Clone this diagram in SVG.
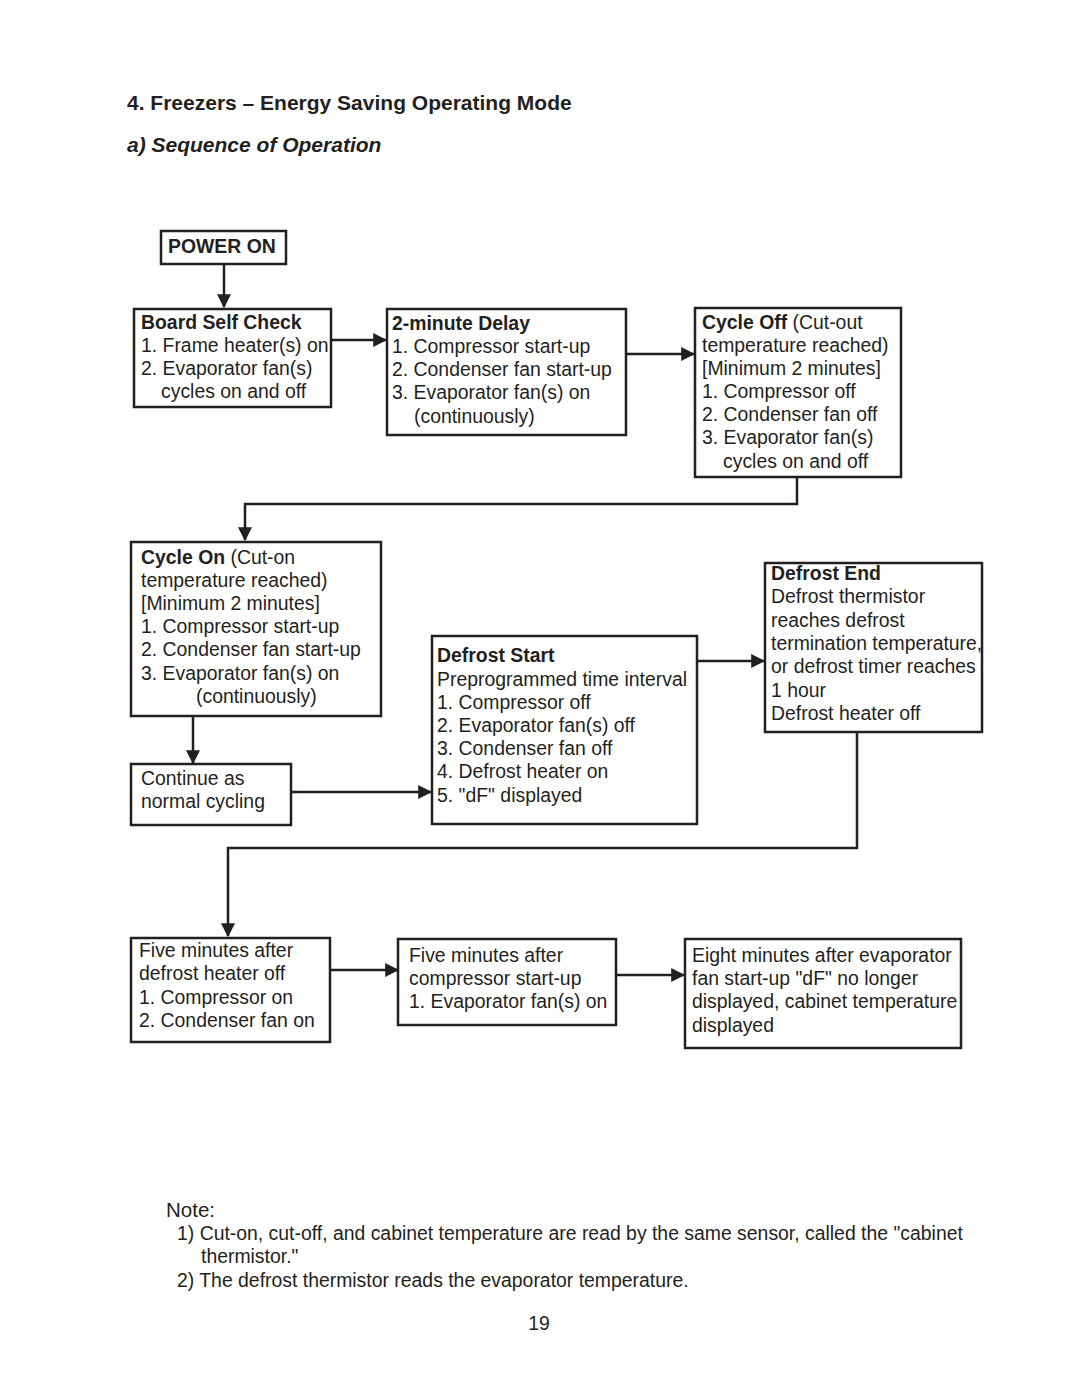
<svg xmlns="http://www.w3.org/2000/svg" width="1080" height="1397" viewBox="0 0 1080 1397">
<style>
text{font-family:"Liberation Sans",Arial,sans-serif;font-size:19.4px;fill:#231f20}
.b{font-weight:bold}
.box{fill:#fff;stroke:#231f20;stroke-width:2.5}
.c{fill:none;stroke:#231f20;stroke-width:2.5}
</style>
<defs>
<marker id="ah" markerUnits="userSpaceOnUse" markerWidth="14" markerHeight="14" viewBox="0 0 12 12" refX="11" refY="6" orient="auto">
<path d="M0,0 L12,6 L0,12 Z" fill="#231f20"/>
</marker>
</defs>
<rect width="1080" height="1397" fill="#fff"/>
<text x="127" y="110" class="b" style="font-size:21px">4. Freezers – Energy Saving Operating Mode</text>
<text x="127" y="152" class="b" style="font-size:21px;font-style:italic">a) Sequence of Operation</text>

<g id="connectors">
<line class="c" x1="224" y1="264" x2="224" y2="307" marker-end="url(#ah)"/>
<line class="c" x1="331" y1="340" x2="386" y2="340" marker-end="url(#ah)"/>
<line class="c" x1="626" y1="354" x2="694" y2="354" marker-end="url(#ah)"/>
<polyline class="c" points="797,477 797,504 245,504 245,540" marker-end="url(#ah)"/>
<line class="c" x1="193" y1="716" x2="193" y2="763" marker-end="url(#ah)"/>
<line class="c" x1="291" y1="792" x2="431" y2="792" marker-end="url(#ah)"/>
<line class="c" x1="697" y1="661" x2="764" y2="661" marker-end="url(#ah)"/>
<polyline class="c" points="857,732 857,848 228,848 228,936" marker-end="url(#ah)"/>
<line class="c" x1="330" y1="970" x2="398" y2="970" marker-end="url(#ah)"/>
<line class="c" x1="616" y1="975" x2="684" y2="975" marker-end="url(#ah)"/>
</g>

<g id="power-on">
<rect class="box" x="161" y="231" width="125" height="33"/>
<text x="168" y="253" class="b">POWER ON</text>
</g>

<g id="board-self-check">
<rect class="box" x="134" y="309" width="197" height="98"/>
<text x="141" y="329" class="b">Board Self Check</text>
<text x="141" y="352">1. Frame heater(s) on</text>
<text x="141" y="375">2. Evaporator fan(s)</text>
<text x="161" y="398">cycles on and off</text>
</g>

<g id="two-minute-delay">
<rect class="box" x="387" y="309" width="239" height="126"/>
<text x="392" y="330" class="b">2-minute Delay</text>
<text x="392" y="353">1. Compressor start-up</text>
<text x="392" y="376">2. Condenser fan start-up</text>
<text x="392" y="399">3. Evaporator fan(s) on</text>
<text x="414" y="423">(continuously)</text>
</g>

<g id="cycle-off">
<rect class="box" x="695" y="308" width="206" height="169"/>
<text x="702" y="329"><tspan class="b">Cycle Off</tspan> (Cut-out</text>
<text x="702" y="352">temperature reached)</text>
<text x="702" y="375">[Minimum 2 minutes]</text>
<text x="702" y="398">1. Compressor off</text>
<text x="702" y="421">2. Condenser fan off</text>
<text x="702" y="444">3. Evaporator fan(s)</text>
<text x="723" y="468">cycles on and off</text>
</g>

<g id="cycle-on">
<rect class="box" x="131" y="542" width="250" height="174"/>
<text x="141" y="564"><tspan class="b">Cycle On</tspan> (Cut-on</text>
<text x="141" y="587">temperature reached)</text>
<text x="141" y="610">[Minimum 2 minutes]</text>
<text x="141" y="633">1. Compressor start-up</text>
<text x="141" y="656">2. Condenser fan start-up</text>
<text x="141" y="680">3. Evaporator fan(s) on</text>
<text x="196" y="703">(continuously)</text>
</g>

<g id="continue">
<rect class="box" x="131" y="764" width="160" height="61"/>
<text x="141" y="785">Continue as</text>
<text x="141" y="808">normal cycling</text>
</g>

<g id="defrost-start">
<rect class="box" x="432" y="636" width="265" height="188"/>
<text x="437" y="662" class="b">Defrost Start</text>
<text x="437" y="686">Preprogrammed time interval</text>
<text x="437" y="709">1. Compressor off</text>
<text x="437" y="732">2. Evaporator fan(s) off</text>
<text x="437" y="755">3. Condenser fan off</text>
<text x="437" y="778">4. Defrost heater on</text>
<text x="437" y="802">5. "dF" displayed</text>
</g>

<g id="defrost-end">
<rect class="box" x="765" y="563" width="217" height="169"/>
<text x="771" y="580" class="b">Defrost End</text>
<text x="771" y="603">Defrost thermistor</text>
<text x="771" y="627">reaches defrost</text>
<text x="771" y="650">termination temperature,</text>
<text x="771" y="673">or defrost timer reaches</text>
<text x="771" y="697">1 hour</text>
<text x="771" y="720">Defrost heater off</text>
</g>

<g id="five-min-heater">
<rect class="box" x="131" y="938" width="199" height="104"/>
<text x="139" y="957">Five minutes after</text>
<text x="139" y="980">defrost heater off</text>
<text x="139" y="1004">1. Compressor on</text>
<text x="139" y="1027">2. Condenser fan on</text>
</g>

<g id="five-min-compressor">
<rect class="box" x="398" y="939" width="218" height="86"/>
<text x="409" y="962">Five minutes after</text>
<text x="409" y="985">compressor start-up</text>
<text x="409" y="1008">1. Evaporator fan(s) on</text>
</g>

<g id="eight-min">
<rect class="box" x="685" y="939" width="276" height="109"/>
<text x="692" y="962">Eight minutes after evaporator</text>
<text x="692" y="985">fan start-up "dF" no longer</text>
<text x="692" y="1008">displayed, cabinet temperature</text>
<text x="692" y="1032">displayed</text>
</g>

<g id="notes">
<text x="166" y="1217" style="font-size:20.5px">Note:</text>
<text x="177" y="1240">1) Cut-on, cut-off, and cabinet temperature are read by the same sensor, called the "cabinet</text>
<text x="201" y="1263">thermistor."</text>
<text x="177" y="1287">2) The defrost thermistor reads the evaporator temperature.</text>
<text x="539" y="1330" text-anchor="middle">19</text>
</g>
</svg>
